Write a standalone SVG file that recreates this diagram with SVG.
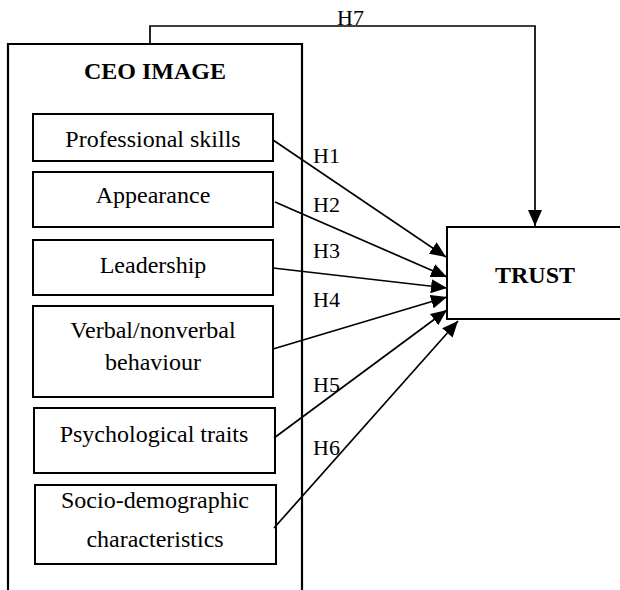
<svg xmlns="http://www.w3.org/2000/svg" width="620" height="590" viewBox="0 0 620 590">
<style>
.box{fill:#fff;stroke:#000;stroke-width:2}
.t{font-family:"Liberation Serif","Times New Roman",serif;font-size:24px;fill:#000;text-anchor:middle}
.b{font-weight:bold}
.lbl{font-family:"Liberation Serif","Times New Roman",serif;font-size:22px;fill:#000}
.c{fill:none;stroke:#000;stroke-width:1.7}
</style>
<defs>
<marker id="ah" markerUnits="userSpaceOnUse" markerWidth="17" markerHeight="14" refX="16" refY="7" orient="auto">
<path d="M0,0 L16,7 L0,14 Z" fill="#000"/>
</marker>
</defs>
<rect width="620" height="590" fill="#fff"/>
<g id="ceo-image">
<path d="M8,600 L8,44 L302,44 L302,600" fill="none" stroke="#000" stroke-width="2.2"/>
<text class="t b" x="155" y="79">CEO IMAGE</text>
</g>
<g id="professional-skills">
<rect class="box" x="33" y="114" width="240" height="47"/>
<text class="t" x="153" y="147">Professional skills</text>
</g>
<g id="appearance">
<rect class="box" x="33" y="172" width="240" height="55"/>
<text class="t" x="153" y="203">Appearance</text>
</g>
<g id="leadership">
<rect class="box" x="33" y="240" width="240" height="55"/>
<text class="t" x="153" y="273">Leadership</text>
</g>
<g id="verbal">
<rect class="box" x="33" y="306" width="240" height="91"/>
<text class="t" x="153" y="338">Verbal/nonverbal</text>
<text class="t" x="153" y="370">behaviour</text>
</g>
<g id="psychological">
<rect class="box" x="34" y="408" width="241" height="65"/>
<text class="t" x="154" y="442">Psychological traits</text>
</g>
<g id="socio">
<rect class="box" x="35" y="485" width="241" height="79"/>
<text class="t" x="155" y="508">Socio-demographic</text>
<text class="t" x="155" y="547">characteristics</text>
</g>
<g id="trust">
<rect class="box" x="447" y="227" width="180" height="92" stroke-width="2.2"/>
<text class="t b" x="535" y="283">TRUST</text>
</g>
<g id="connectors">
<path class="c" d="M150,43 L150,26 L535,26 L535,226" marker-end="url(#ah)"/>
<line class="c" x1="273" y1="140" x2="446" y2="257" marker-end="url(#ah)"/>
<line class="c" x1="275" y1="202" x2="447" y2="277" marker-end="url(#ah)"/>
<line class="c" x1="273" y1="268" x2="447" y2="288" marker-end="url(#ah)"/>
<line class="c" x1="273" y1="349" x2="447" y2="297" marker-end="url(#ah)"/>
<line class="c" x1="274" y1="438" x2="447" y2="310" marker-end="url(#ah)"/>
<line class="c" x1="274" y1="528" x2="458" y2="321" marker-end="url(#ah)"/>
</g>
<g id="labels">
<text class="lbl" x="313" y="163">H1</text>
<text class="lbl" x="313" y="212">H2</text>
<text class="lbl" x="313" y="258">H3</text>
<text class="lbl" x="313" y="307">H4</text>
<text class="lbl" x="313" y="392">H5</text>
<text class="lbl" x="313" y="455">H6</text>
<text class="lbl" x="337" y="25">H7</text>
</g>
</svg>
